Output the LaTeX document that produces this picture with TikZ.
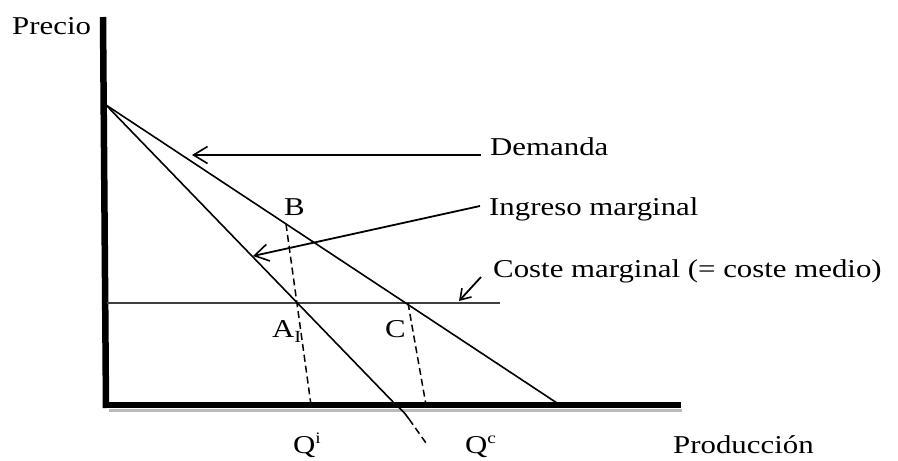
\documentclass[tikz,border=0pt]{standalone}
\usepackage{fontspec}
\setmainfont{Liberation Serif}[FakeStretch=1.2]
\usetikzlibrary{arrows.meta}
\begin{document}
\begin{tikzpicture}[x=1pt,y=-1pt,
  lbl/.style={anchor=base west,inner sep=0pt,font=\fontsize{25.7}{30}\selectfont},
  curve/.style={line width=1.6pt},
  guide/.style={line width=1.5pt,dash pattern=on 7pt off 4pt},
  pointer/.style={line width=1.8pt,-{Straight Barb[length=14pt,width=17pt,line width=1.6pt]}},
  axisline/.style={line width=6.5pt},
  costline/.style={line width=1.2pt,black!75}]
\useasboundingbox (0,0) rectangle (898,461);
% key points
\coordinate (Ytop) at (103,17);
\coordinate (Ybot) at (106,408);
\coordinate (X0) at (103,405);
\coordinate (Xend) at (681,405);
\coordinate (P0) at (106,105);
\coordinate (Dend) at (560,405);
\coordinate (Mend) at (396,405);
\coordinate (Mcurve) at (409,419);
\coordinate (Mtail) at (426,443);
\coordinate (MC0) at (107,303);
\coordinate (MC1) at (500,303);
\coordinate (B) at (286,224);
\coordinate (C) at (408,303);
\coordinate (Qi) at (311,405);
\coordinate (Qc) at (426,405);
% axes
\draw[gray!55,line width=3pt] (109,410) -- (682,410);
\draw[axisline] (Ytop) -- (Ybot);
\draw[axisline] (X0) -- (Xend);
% cost line
\draw[costline] (MC0) -- (MC1);
% demand and marginal revenue
\draw[curve] (P0) -- (Dend);
\draw[curve] (P0) -- (Mend) .. controls (403,411) .. (Mcurve);
\draw[guide] (Mcurve) -- (Mtail);
% guides
\draw[guide] (B) -- (Qi);
\draw[guide] (C) -- (Qc);
% labels
\node[lbl] (precio) at (12,34) {Precio};
\node[lbl] (dem) at (490,155) {Demanda};
\node[lbl] (im) at (489,215) {Ingreso marginal};
\node[lbl] (cm) at (493,277) {Coste marginal (= coste medio)};
\node[lbl] (lB) at (284,215) {B};
\node[lbl] (lA) at (272,337) {A\raisebox{-5pt}{\fontsize{17}{17}\selectfont I}};
\node[lbl] (lC) at (385,337) {C};
\node[lbl] (lQi) at (293,453) {Q\raisebox{10pt}{\fontsize{16}{16}\selectfont i}};
\node[lbl] (lQc) at (465,453) {Q\raisebox{10pt}{\fontsize{16}{16}\selectfont c}};
\node[lbl] (lP) at (673,453) {Producción};
% pointers
\coordinate (dT) at (481,155);
\coordinate (dH) at (192,155);
\coordinate (iT) at (480,206);
\coordinate (iH) at (253,256);
\coordinate (cT) at (481,277);
\coordinate (cH) at (459,301);
\draw[pointer] (dT) -- (dH);
\draw[pointer] (iT) -- (iH);
\draw[pointer,-{Straight Barb[length=10pt,width=13pt,line width=1.6pt]}] (cT) -- (cH);
\end{tikzpicture}
\end{document}
